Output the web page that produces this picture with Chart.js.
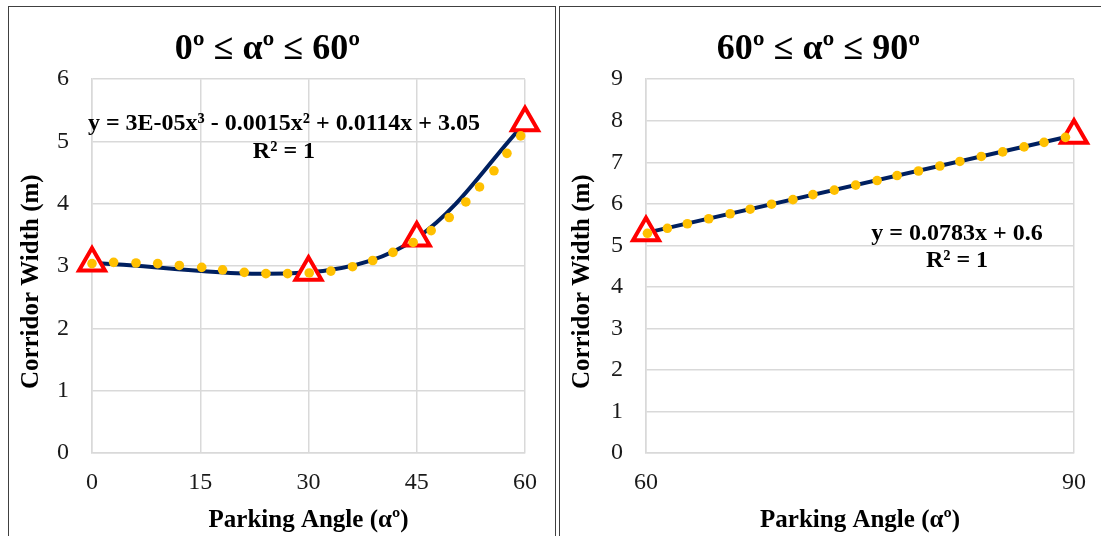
<!DOCTYPE html>
<html>
<head>
<meta charset="utf-8">
<script src="https://cdn.jsdelivr.net/npm/chart.js@4.4.1/dist/chart.umd.min.js"></script>
<style>
    html, body { margin: 0; padding: 0; background: #fff; width: 1101px; height: 536px; overflow: hidden; }
    .frame { position: absolute; box-sizing: border-box; border: 1.5px solid #404040; }
    #frame_left { left: 8px; top: 6px; width: 548px; height: 600px; }
    #frame_right { left: 559px; top: 6px; width: 600px; height: 600px; }
    canvas { position: absolute; }
    #chart_left { left: 10px; top: 9px; }
    #chart_right { left: 561px; top: 9px; }
</style>
</head>
<body>
<div class="frame" id="frame_left"></div>
<div class="frame" id="frame_right"></div>
<canvas id="chart_left" width="544" height="527"></canvas>
<canvas id="chart_right" width="540" height="527"></canvas>

<script>
// ── Data ───────────────────────────────────────────────
var leftAngles = [0, 30, 45, 60];
var leftWidths = [3.05, 2.9, 3.45, 5.3];
var leftTrendAngles = [0, 3.0, 6.1, 9.1, 12.1, 15.2, 18.1, 21.1, 24.1, 27.1, 30.1, 33.1, 36.1, 38.9, 41.7, 44.5, 47.0, 49.5, 51.8, 53.7, 55.7, 57.5, 59.4];
var leftTrendWidths = [3.04, 3.06, 3.05, 3.04, 3.01, 2.98, 2.94, 2.90, 2.88, 2.88, 2.89, 2.92, 2.99, 3.09, 3.22, 3.38, 3.57, 3.78, 4.03, 4.27, 4.53, 4.81, 5.09];
var leftTicksX = { min: 0, max: 60, step: 15 };
var leftTicksY = { min: 0, max: 6, step: 1 };
var leftEquation = ['y = 3E-05x³ - 0.0015x² + 0.0114x + 3.05', 'R² = 1'];

var rightAngles = [60, 90];
var rightWidths = [5.3, 7.65];
var rightTrendAngles = [60.1, 61.5, 62.9, 64.4, 65.9, 67.3, 68.8, 70.3, 71.7, 73.2, 74.7, 76.2, 77.6, 79.1, 80.6, 82.0, 83.5, 85.0, 86.5, 87.9, 89.4];
var rightTrendWidths = [5.29, 5.41, 5.52, 5.64, 5.76, 5.87, 5.99, 6.10, 6.22, 6.33, 6.45, 6.56, 6.68, 6.79, 6.91, 7.02, 7.14, 7.25, 7.37, 7.48, 7.60];
var rightTicksX = { min: 60, max: 90, step: 30 };
var rightTicksY = { min: 0, max: 9, step: 1 };
var rightEquation = ['y = 0.0783x + 0.6', 'R² = 1'];

var FONT = "'Liberation Serif', 'Times New Roman', serif";
var GRID = '#d9d9d9';
var NAVY = '#002060';
var GOLD = '#ffc000';
var RED = '#ff0000';

function pairs(xs, ys) {
    return xs.map(function (x, i) { return { x: x, y: ys[i] }; });
}

// draws the trendline equation text in data coordinates
var equationPlugin = {
    id: 'equation',
    afterDatasetsDraw: function (chart, args, opts) {
        if (!opts.lines) return;
        var ctx = chart.ctx;
        var xs = chart.scales.x, ys = chart.scales.y;
        ctx.save();
        ctx.font = 'bold ' + opts.size + 'px ' + FONT;
        ctx.fillStyle = '#000';
        ctx.textAlign = 'center';
        ctx.textBaseline = 'middle';
        opts.lines.forEach(function (t, i) {
            ctx.fillText(t, xs.getPixelForValue(opts.at[0]), ys.getPixelForValue(opts.at[1 + i]));
        });
        ctx.restore();
    }
};

function makeChart(id, cfg) {
    return new Chart(document.getElementById(id), {
        type: 'scatter',
        data: {
            datasets: [
                {
                    label: 'Trend',
                    data: pairs(cfg.trendX, cfg.trendY),
                    showLine: false,
                    pointRadius: 4.8,
                    pointBackgroundColor: GOLD,
                    pointBorderWidth: 0,
                    clip: false,
                    order: 0
                },
                {
                    label: 'Corridor width',
                    data: pairs(cfg.x, cfg.y),
                    showLine: true,
                    borderColor: NAVY,
                    borderWidth: 4,
                    tension: cfg.tension,
                    pointStyle: 'triangle',
                    pointRadius: 15,
                    pointBorderWidth: 4,
                    pointBorderColor: RED,
                    pointBackgroundColor: '#fff',
                    clip: false,
                    order: 1
                }
            ]
        },
        options: {
            responsive: false,
            animation: false,
            events: [],
            layout: { padding: { left: 0, right: cfg.padRight, top: 0, bottom: 0 } },
            plugins: {
                legend: { display: false },
                tooltip: { enabled: false },
                title: {
                    display: true,
                    text: cfg.title,
                    color: '#000',
                    font: { family: FONT, size: 36, weight: 'bold', lineHeight: 1.2 },
                    padding: { top: 19, bottom: 8 }
                },
                equation: { lines: cfg.equation, at: cfg.eqAt, size: 24 }
            },
            scales: {
                x: {
                    type: 'linear',
                    min: cfg.ticksX.min,
                    max: cfg.ticksX.max,
                    afterFit: function (s) { s.height = 83; },
                    ticks: {
                        stepSize: cfg.ticksX.step,
                        padding: 15,
                        color: '#1a1a1a',
                        font: { family: FONT, size: 24 }
                    },
                    grid: { color: GRID, lineWidth: 1.5, drawTicks: false },
                    border: { color: GRID, width: 1.5 },
                    title: {
                        display: true,
                        text: 'Parking Angle (αº)',
                        color: '#000',
                        font: { family: FONT, size: 25, weight: 'bold' },
                        padding: { top: 0, bottom: 0 }
                    }
                },
                y: {
                    type: 'linear',
                    min: cfg.ticksY.min,
                    max: cfg.ticksY.max,
                    afterFit: function (s) { s.width = cfg.yWidth; },
                    ticks: {
                        stepSize: cfg.ticksY.step,
                        padding: 23,
                        color: '#1a1a1a',
                        font: { family: FONT, size: 24 }
                    },
                    grid: { color: GRID, lineWidth: 1.5, drawTicks: false },
                    border: { color: GRID, width: 1.5 },
                    title: {
                        display: true,
                        text: 'Corridor Width (m)     ',
                        color: '#000',
                        font: { family: FONT, size: 25, weight: 'bold' },
                        padding: { top: cfg.yTitlePad, bottom: 0 }
                    }
                }
            }
        },
        plugins: [equationPlugin]
    });
}

makeChart('chart_left', {
    title: '0º ≤ αº ≤ 60º',
    x: leftAngles, y: leftWidths,
    trendX: leftTrendAngles, trendY: leftTrendWidths,
    ticksX: leftTicksX, ticksY: leftTicksY,
    equation: leftEquation, eqAt: [26.6, 5.28, 4.83],
    tension: 0.35, padRight: 29, yWidth: 82, yTitlePad: 7
});

makeChart('chart_right', {
    title: '60º ≤ αº ≤ 90º',
    x: rightAngles, y: rightWidths,
    trendX: rightTrendAngles, trendY: rightTrendWidths,
    ticksX: rightTicksX, ticksY: rightTicksY,
    equation: rightEquation, eqAt: [81.8, 5.27, 4.62],
    tension: 0, padRight: 25, yWidth: 85, yTitlePad: 6.5
});
</script>
</body>
</html>
